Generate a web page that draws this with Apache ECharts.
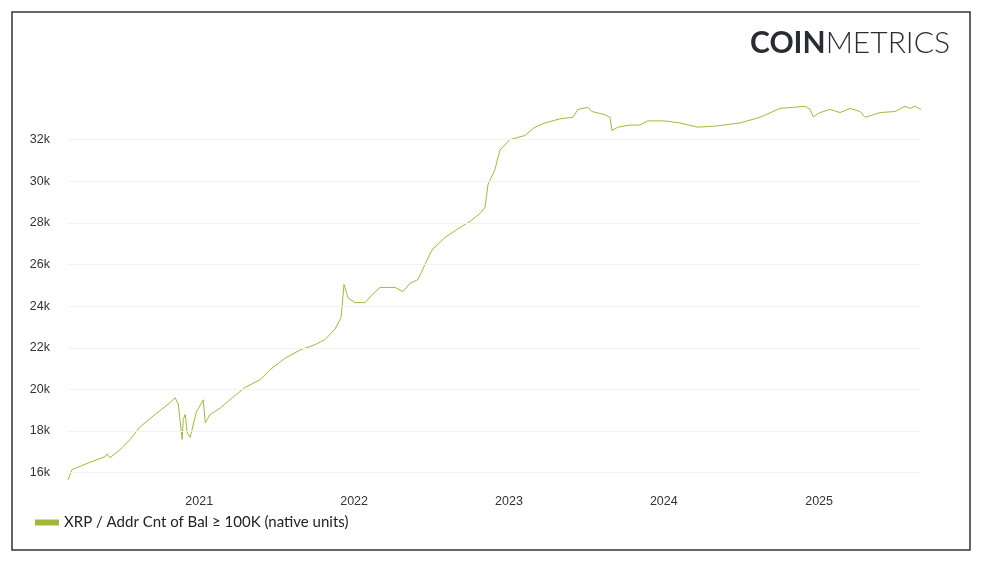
<!DOCTYPE html>
<html>
<head>
<meta charset="utf-8">
<script src="https://cdn.jsdelivr.net/npm/echarts@6/dist/echarts.min.js"></script>
<style>
  html, body { margin: 0; padding: 0; background: #fff; }
  #chart { width: 982px; height: 562px; }
</style>
</head>
<body>
<div id="chart"></div>
<script>
// decimal years
const years = [2020.155, 2020.181, 2020.297, 2020.394, 2020.406, 2020.426, 2020.490, 2020.555, 2020.619, 2020.716,
  2020.813, 2020.845, 2020.865, 2020.877, 2020.890, 2020.897, 2020.910, 2020.923, 2020.942, 2020.981,
  2021.026, 2021.039, 2021.071, 2021.135, 2021.213, 2021.297, 2021.394, 2021.458, 2021.555, 2021.652,
  2021.748, 2021.813, 2021.877, 2021.916, 2021.935, 2021.961, 2022.006, 2022.071, 2022.116, 2022.168,
  2022.265, 2022.316, 2022.361, 2022.413, 2022.458, 2022.503, 2022.587, 2022.684, 2022.748, 2022.813,
  2022.845, 2022.865, 2022.910, 2022.942, 2023.006, 2023.103, 2023.168, 2023.232, 2023.329, 2023.413,
  2023.445, 2023.510, 2023.535, 2023.619, 2023.652, 2023.665, 2023.703, 2023.781, 2023.845, 2023.897,
  2024.006, 2024.103, 2024.219, 2024.329, 2024.490, 2024.619, 2024.748, 2024.910, 2024.942, 2024.961,
  2025.006, 2025.071, 2025.135, 2025.200, 2025.265, 2025.297, 2025.394, 2025.490, 2025.555, 2025.587,
  2025.619, 2025.658];
// address count, thousands
const counts = [15.66, 16.15, 16.5, 16.77, 16.9, 16.72, 17.1, 17.6, 18.2, 18.8,
  19.37, 19.6, 19.3, 19.35, 17.6, 18.55, 18.8, 17.9, 17.7, 18.9,
  19.5, 18.4, 18.8, 19.1, 19.6, 20.1, 20.47, 20.95, 21.5, 21.9,
  22.15, 22.4, 22.9, 23.45, 25.04, 24.4, 24.17, 24.17, 24.55, 24.9,
  24.9, 24.7, 25.1, 25.28, 26.0, 26.7, 27.3, 27.78, 28.07, 28.45,
  28.74, 29.85, 30.57, 31.5, 32.0, 32.2, 32.6, 32.8, 33.0, 33.07,
  33.45, 33.55, 33.35, 33.2, 33.07, 32.44, 32.6, 32.7, 32.7, 32.9,
  32.9, 32.8, 32.6, 32.65, 32.8, 33.07, 33.5, 33.6, 33.45, 33.1,
  33.3, 33.45, 33.3, 33.5, 33.35, 33.07, 33.3, 33.35, 33.6, 33.5,
  33.6, 33.45];
const yTicks = [16000, 18000, 20000, 22000, 24000, 26000, 28000, 30000, 32000];
const seriesName = 'XRP / Addr Cnt of Bal ≥ 100K (native units)';

function yearToTime(y) {
  const yr = Math.floor(y);
  const a = Date.UTC(yr, 0, 1), b = Date.UTC(yr + 1, 0, 1);
  return a + (y - yr) * (b - a);
}
const data = years.map((y, i) => [yearToTime(y), counts[i] * 1000]);

const chart = echarts.init(document.getElementById('chart'));
chart.setOption({
  animation: false,
  backgroundColor: '#fff',
  grid: { left: 68, right: 61, top: 98, bottom: 81 },
  legend: {
    left: 30, bottom: 27, itemWidth: 24, itemHeight: 6, itemGap: 6,
    icon: 'rect',
    textStyle: { fontFamily: 'Lato', fontSize: 15, color: '#222' },
    data: [seriesName]
  },
  xAxis: {
    type: 'time',
    min: data[0][0], max: data[data.length - 1][0],
    axisLine: { show: false }, axisTick: { show: false },
    splitLine: { show: false },
    axisLabel: {
      fontFamily: 'Liberation Sans', fontSize: 12.5, color: '#333', margin: 14,
      formatter: v => { const d = new Date(v); return d.getUTCMonth() === 0 && d.getUTCDate() === 1 ? String(d.getUTCFullYear()) : ''; }
    },
    minInterval: 365 * 24 * 3600 * 1000
  },
  yAxis: {
    type: 'value', min: 15600, max: 34000, interval: 400,
    axisLine: { show: false }, axisTick: { show: false },
    splitLine: { show: false },
    axisLabel: {
      fontFamily: 'Liberation Sans', fontSize: 12.5, color: '#333', margin: 18,
      formatter: v => (v % 2000 === 0 && v <= 32000) ? (v / 1000) + 'k' : ''
    }
  },
  series: [{
    name: seriesName, type: 'line', data: data, showSymbol: false,
    color: '#a3b83a',
    lineStyle: { width: 1, color: '#a3b83a' },
    markLine: {
      silent: true, symbol: 'none', label: { show: false },
      lineStyle: { color: '#f2f2f2', type: 'solid', width: 1 },
      data: yTicks.map(t => ({ yAxis: t }))
    }
  }],
  graphic: [
    { type: 'rect', shape: { x: 12, y: 12, width: 958, height: 538 },
      style: { fill: 'none', stroke: '#333', lineWidth: 1.5 } },
    { type: 'text', right: 32, top: 28,
      style: {
        text: '{b|COIN}{l|METRICS}',
        rich: {
          b: { fontFamily: 'Lato', fontWeight: 'bold', fontSize: 30, fill: '#2b2b33' },
          l: { fontFamily: 'Lato', fontWeight: 300, fontSize: 30, fill: '#2b2b33' }
        }
      } }
  ]
});
</script>
</body>
</html>
